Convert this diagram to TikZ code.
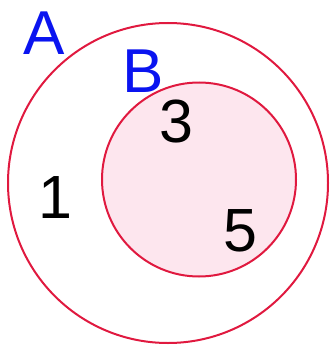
\documentclass[tikz,border=0pt]{standalone}
\usepackage{fontspec}
\setmainfont{Liberation Sans}
\usepackage{xcolor}
\usepackage{tikz}
\definecolor{setred}{HTML}{E0193F}
\definecolor{setpink}{HTML}{FDE6EE}
\definecolor{setblue}{HTML}{0A14F0}
\tikzset{
  setring/.style ={circle, draw=setred, line width=2pt, inner sep=0pt},
  setname/.style ={text=setblue, inner sep=0pt, font=\fontsize{62}{62}\selectfont},
  elem/.style    ={text=black, inner sep=0pt, font=\fontsize{61}{61}\selectfont},
}
\begin{document}
\begin{tikzpicture}[x=1pt, y=-1pt]
  \useasboundingbox (0,0) rectangle (329,345);
  \node[setring, minimum size=320pt] (A) at (168,183) {};
  \node[setring, fill=setpink, minimum size=194pt] (B) at (199,179.5) {};
  \node[setname] (labA) at (44,33) {A};
  \node[setname] (labB) at (143.5,71) {B};
  \node[elem] (e3) at (176,122) {3};
  \node[elem] (e1) at (55,198) {1};
  \node[elem] (e5) at (240,231) {5};
\end{tikzpicture}
\end{document}
